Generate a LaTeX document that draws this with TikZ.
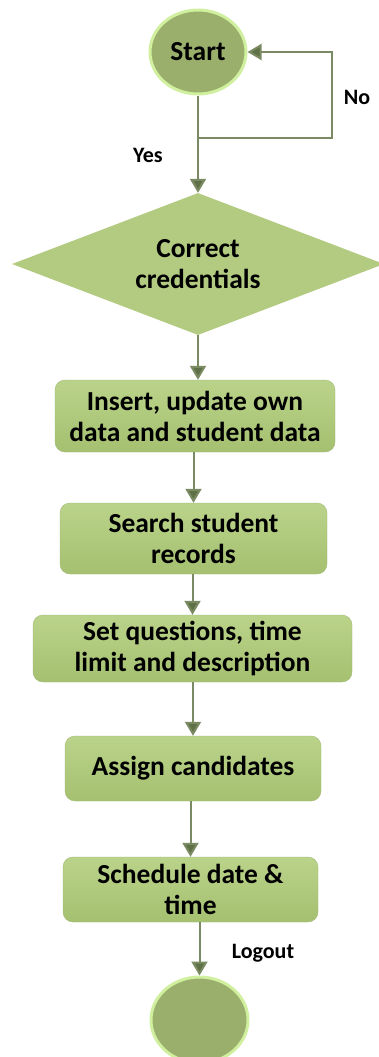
\documentclass[tikz,border=0pt]{standalone}
\usepackage{fontspec}
\setmainfont{Carlito}
\usepackage{xcolor}
\usetikzlibrary{shapes.geometric,arrows.meta,positioning,calc}
\definecolor{flowfill}{RGB}{178,203,128}
\definecolor{flowtop}{RGB}{186,211,138}
\definecolor{flowbot}{RGB}{165,192,112}
\definecolor{flowedge}{RGB}{160,186,116}
\definecolor{termfill}{RGB}{154,175,108}
\definecolor{termedge}{RGB}{208,240,160}
\definecolor{linkline}{RGB}{122,138,99}
\definecolor{linkhead}{RGB}{95,112,70}

\begin{document}
\begin{tikzpicture}[
  x=1pt, y=-1pt,
  font=\fontsize{27.5}{31}\selectfont\bfseries,
  term/.style={ellipse, draw=termedge, line width=3pt, fill=termfill,
               minimum width=96pt, minimum height=84pt, inner sep=0pt},
  decide/.style={diamond, fill=flowfill, align=center, inner sep=0pt, aspect=2.62,
                 minimum width=372pt, minimum height=142pt},
  stepbox/.style={draw=flowedge, rounded corners=10pt, align=center,
                  top color=flowtop, bottom color=flowbot, inner sep=1pt},
  tag/.style={font=\fontsize{22}{24}\selectfont\bfseries},
  ar/.style={-{Triangle[length=14pt, width=16pt, fill=linkhead]}, line width=2pt, linkline}
]
\useasboundingbox (0,0) rectangle (378,1057);

\node[term] (start) at (198,52) {Start};
\node[decide] (cred) at (198,264) {Correct\\credentials};
\node[stepbox, minimum width=280pt, minimum height=72pt] (insert) at (195,416)
  {Insert, update own\\data and student data};
\node[stepbox, minimum width=267pt, minimum height=71pt] (search) at (193.5,538.5)
  {Search student\\records};
\node[stepbox, minimum width=319pt, minimum height=67pt] (setq) at (192.5,648.5)
  {Set questions, time\\limit and description};
\node[stepbox, minimum width=256pt, minimum height=65pt] (assign) at (193,768.5)
  {Assign candidates};
\node[stepbox, minimum width=255pt, minimum height=65pt] (sched) at (190.5,889.5)
  {Schedule date \&\\time};
\node[term, minimum width=97pt, minimum height=86pt] (finish) at (199.5,1020) {};

\coordinate (split) at (198,138);
\coordinate (turn) at (332,138);

\draw[ar] (start.south) -- (cred.north);
\draw[ar] (split) -- (turn) |- (start.east);
\draw[ar] (cred.south) -- (cred.south |- insert.north);
\draw[ar] (insert.south -| search.north) -- (search.north);
\draw[ar] (search.south -| setq.north) -- (setq.north);
\draw[ar] (setq.south -| assign.north) -- (assign.north);
\draw[ar] (assign.south -| sched.north) -- (sched.north);
\draw[ar] (sched.south -| finish.north) -- (finish.north);

\node[tag] (no) at (357,97) {No};
\node[tag] (yes) at (148,155) {Yes};
\node[tag] (logout) at (263,953) {Logout};
\end{tikzpicture}
\end{document}
